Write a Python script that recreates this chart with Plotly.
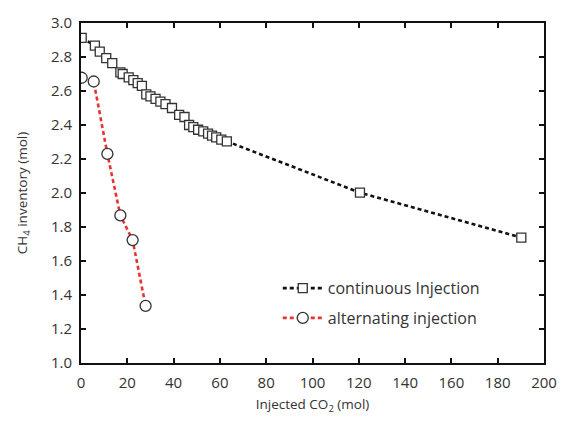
import plotly.graph_objects as go

# continuous injection
cont_x = [0.3, 6.0, 8.1, 10.9, 13.5, 17.0, 18.0, 20.6, 22.6, 24.5, 26.3, 28.2, 30.0, 32.2,
          34.3, 36.5, 39.3, 42.4, 44.7, 46.7, 48.5, 50.6, 52.8, 54.9, 56.6, 58.4, 60.6, 63.0,
          120.5, 190.2]
cont_y = [2.912, 2.867, 2.832, 2.793, 2.764, 2.709, 2.700, 2.680, 2.664, 2.646, 2.630, 2.580,
          2.568, 2.554, 2.538, 2.523, 2.500, 2.460, 2.447, 2.400, 2.388, 2.372, 2.362, 2.349,
          2.337, 2.327, 2.314, 2.304, 2.002, 1.738]

# alternating injection
alt_x = [0.3, 5.5, 11.4, 17.0, 22.3, 27.9]
alt_y = [2.678, 2.656, 2.230, 1.868, 1.723, 1.336]

x_ticks = list(range(0, 201, 20))
y_ticks = [1.0, 1.2, 1.4, 1.6, 1.8, 2.0, 2.2, 2.4, 2.6, 2.8, 3.0]

font_family = "Open Sans"
txt = "#333333"

fig = go.Figure()
fig.add_trace(go.Scatter(
    x=cont_x, y=cont_y, mode="lines+markers", name="continuous Injection",
    legendgroup="a",
    line=dict(color="#111111", width=2.6, dash="4px,3px"),
    marker=dict(symbol="square", size=9, color="white",
                line=dict(color="#333333", width=1.3)),
))
fig.add_trace(go.Scatter(
    x=alt_x, y=alt_y, mode="lines+markers", name="alternating injection",
    legendgroup="b",
    line=dict(color="#e8322e", width=2.6, dash="4px,3px"),
    marker=dict(symbol="circle", size=11, color="white",
                line=dict(color="#333333", width=1.3)),
))

axis_common = dict(
    showgrid=False, zeroline=False, showline=True, linecolor="#111111", linewidth=2,
    mirror="ticks", ticks="inside", ticklen=5, tickwidth=2, tickcolor="#111111",
    tickfont=dict(family=font_family, size=15, color=txt),
)

fig.update_layout(
    width=569, height=429,
    margin=dict(l=81, r=17, t=23, b=66),
    paper_bgcolor="white", plot_bgcolor="white",
    font=dict(family=font_family, size=14, color=txt),
    xaxis=dict(range=[0, 200], tickvals=x_ticks, ticklabelstandoff=5,
               title=dict(text="Injected CO<sub>2</sub> (mol)", standoff=9,
                          font=dict(family=font_family, size=13.5, color=txt)),
               **axis_common),
    yaxis=dict(range=[1.0, 3.0], tickvals=y_ticks, tickformat=".1f", ticklabelstandoff=4,
               title=dict(text="CH<sub>4</sub> inventory (mol)", standoff=20,
                          font=dict(family=font_family, size=13.5, color=txt)),
               **axis_common),
    showlegend=True,
    legend=dict(x=0.425, y=0.27, xanchor="left", yanchor="top", itemwidth=40,
                bgcolor="rgba(0,0,0,0)", traceorder="grouped", tracegroupgap=6,
                font=dict(family=font_family, size=16, color=txt)),
)

fig.write_html("out.html")
